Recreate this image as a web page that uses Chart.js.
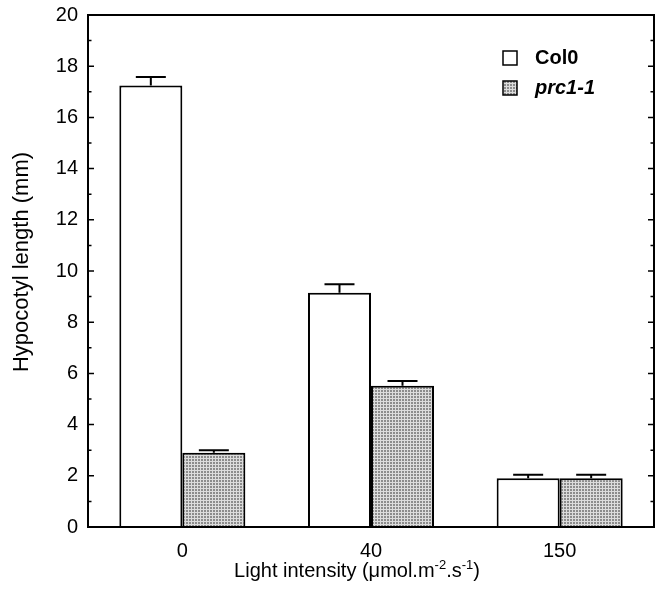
<!DOCTYPE html>
<html>
<head>
<meta charset="utf-8">
<script src="https://cdn.jsdelivr.net/npm/chart.js@4/dist/chart.umd.min.js"></script>
<style>
  html, body { margin: 0; padding: 0; background: #fff; }
  #wrap { width: 656px; height: 591px; position: relative; }
</style>
</head>
<body>
<div id="wrap"><canvas id="c" width="656" height="591"></canvas></div>
<script>
// ---- data ----
const categories = ['0', '40', '150'];
const seriesNames = ['Col0', 'prc1-1'];
const col0Values = [17.25, 9.15, 1.9];
const col0Errors = [0.33, 0.33, 0.14];
const prcValues = [2.9, 5.52, 1.9];
const prcErrors = [0.1, 0.18, 0.14];
const yTicksMin = 0, yTicksMax = 20, yTickStep = 2;
const yTitle = 'Hypocotyl length (mm)';
const xTitleParts = [
  { t: 'Light intensity (\u03BCmol.m', sup: false },
  { t: '-2', sup: true },
  { t: '.s', sup: false },
  { t: '-1', sup: true },
  { t: ')', sup: false }
];

const FONT = "'Liberation Sans', Arial, Helvetica, sans-serif";

// dotted grey fill pattern
function makePattern() {
  const p = document.createElement('canvas');
  p.width = 3; p.height = 3;
  const g = p.getContext('2d');
  g.fillStyle = '#dcdcdc';
  g.fillRect(0, 0, 3, 3);
  g.fillStyle = '#8c8c8c';
  g.fillRect(0, 0, 2, 2);
  return document.getElementById('c').getContext('2d').createPattern(p, 'repeat');
}
const pattern = makePattern();

const errorsByDataset = [col0Errors, prcErrors];

const decorPlugin = {
  id: 'decor',
  afterDatasetsDraw(chart) {
    const ctx = chart.ctx;
    const ys = chart.scales.y;
    const ca = chart.chartArea;
    ctx.save();
    // error bars (upper)
    ctx.strokeStyle = '#000';
    ctx.lineWidth = 2;
    chart.data.datasets.forEach((ds, di) => {
      const meta = chart.getDatasetMeta(di);
      meta.data.forEach((bar, i) => {
        const v = ds.data[i];
        const e = errorsByDataset[di][i];
        const yTop = ys.getPixelForValue(v + e);
        ctx.beginPath();
        ctx.moveTo(bar.x, bar.y);
        ctx.lineTo(bar.x, yTop);
        ctx.moveTo(bar.x - 15, yTop);
        ctx.lineTo(bar.x + 15, yTop);
        ctx.stroke();
      });
    });
    // frame
    ctx.lineWidth = 2;
    ctx.strokeRect(ca.left, ca.top, ca.right - ca.left, ca.bottom - ca.top);
    // y ticks (inward, both sides), majors + minors
    ctx.lineWidth = 1.5;
    const majors = ys.ticks.map(t => t.value);
    const marks = [];
    majors.forEach((v, i) => {
      marks.push({ v, major: true });
      if (i < majors.length - 1) marks.push({ v: (v + majors[i + 1]) / 2, major: false });
    });
    marks.forEach(m => {
      const y = ys.getPixelForValue(m.v);
      ctx.beginPath();
      ctx.moveTo(ca.left, y); ctx.lineTo(ca.left + (m.major ? 6 : 3.5), y);
      ctx.moveTo(ca.right, y); ctx.lineTo(ca.right - (m.major ? 6 : 3.5), y);
      ctx.stroke();
    });
    // legend
    const lx = ca.right - 151, ly0 = ca.top + 36;
    chart.data.datasets.forEach((ds, di) => {
      const y = ly0 + di * 30;
      ctx.fillStyle = ds.backgroundColor;
      ctx.fillRect(lx, y, 14, 14);
      ctx.lineWidth = 1.5;
      ctx.strokeStyle = '#000';
      ctx.strokeRect(lx, y, 14, 14);
      ctx.fillStyle = '#000';
      ctx.font = (di === 1 ? 'italic ' : '') + 'bold 20px ' + FONT;
      ctx.textBaseline = 'middle';
      ctx.textAlign = 'left';
      ctx.fillText(ds.label, lx + 32, y + 7.5);
    });
    // y title
    ctx.save();
    ctx.translate(22, (ca.top + ca.bottom) / 2 - 9);
    ctx.rotate(-Math.PI / 2);
    ctx.font = '22px ' + FONT;
    ctx.textAlign = 'center';
    ctx.textBaseline = 'middle';
    ctx.fillStyle = '#000';
    ctx.fillText(yTitle, 0, 0);
    ctx.restore();
    // x title with superscripts
    const mainFont = '20px ' + FONT;
    const supFont = '13px ' + FONT;
    let total = 0;
    xTitleParts.forEach(p => { ctx.font = p.sup ? supFont : mainFont; total += ctx.measureText(p.t).width; });
    let x = (ca.left + ca.right) / 2 - 14 - total / 2;
    const base = 577;
    ctx.textBaseline = 'alphabetic';
    ctx.textAlign = 'left';
    ctx.fillStyle = '#000';
    xTitleParts.forEach(p => {
      ctx.font = p.sup ? supFont : mainFont;
      ctx.fillText(p.t, x, p.sup ? base - 8 : base);
      x += ctx.measureText(p.t).width;
    });
    ctx.restore();
  }
};

new Chart(document.getElementById('c'), {
  type: 'bar',
  data: {
    labels: categories,
    datasets: [
      { label: seriesNames[0], data: col0Values, backgroundColor: '#ffffff', borderColor: '#000', borderWidth: 2,
        categoryPercentage: 0.668, barPercentage: 1.0 },
      { label: seriesNames[1], data: prcValues, backgroundColor: pattern, borderColor: '#000', borderWidth: 2,
        categoryPercentage: 0.668, barPercentage: 1.0 }
    ]
  },
  options: {
    responsive: false,
    animation: false,
    devicePixelRatio: 1,
    layout: { padding: { top: 15, right: 2, left: 0, bottom: 0 } },
    plugins: { legend: { display: false }, tooltip: { enabled: false } },
    scales: {
      x: {
        grid: { display: false, drawTicks: false },
        border: { display: false },
        ticks: { color: '#000', font: { family: FONT, size: 20 }, padding: 12 },
        afterFit(s) { s.height = 64; s.paddingLeft = 0; s.paddingRight = 0; }
      },
      y: {
        min: yTicksMin, max: yTicksMax,
        grid: { display: false, drawTicks: false },
        border: { display: false },
        ticks: { stepSize: yTickStep, color: '#000', font: { family: FONT, size: 20 }, padding: 10 },
        title: { display: false },
        afterFit(s) { s.width = 88; s.paddingTop = 0; s.paddingBottom = 0; }
      }
    }
  },
  plugins: [decorPlugin]
});
</script>
</body>
</html>
